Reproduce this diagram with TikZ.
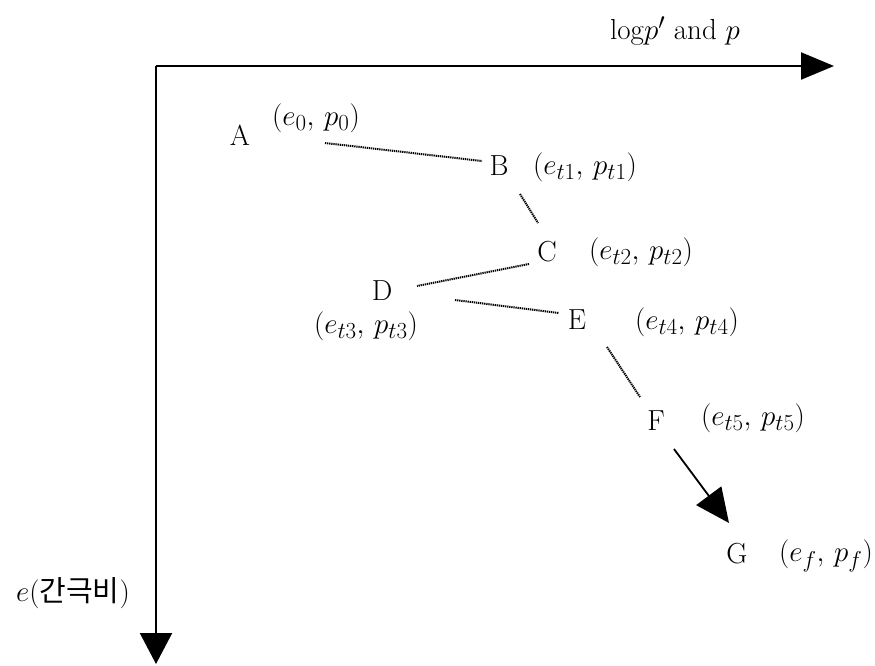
\documentclass[tikz,border=0pt]{standalone}
\usepackage{fix-cm}
\usepackage{fontspec}
\newfontfamily\kr{Noto Sans CJK KR}
\DeclareMathSizes{29}{29}{23}{18}
\usetikzlibrary{arrows.meta}
\begin{document}
\begin{tikzpicture}[x=1pt,y=-1pt,
  lbl/.style={inner sep=0pt,font=\fontsize{29}{34}\selectfont},
  axis/.style={line width=2.2pt},
  dotline/.style={line width=2pt,dash pattern=on 1.3pt off 0.8pt}
]
\useasboundingbox (0,0) rectangle (875,665);
% axes
\coordinate (O) at (156,66);
\coordinate (Xend) at (834,66);
\coordinate (Yend) at (156,664);
\draw[axis,-{Triangle[length=33pt,width=27pt]}] (O) -- (Xend);
\draw[axis,-{Triangle[length=31pt,width=32pt]}] (O) -- (Yend);
\node[lbl] (xlab) at (675,31) {$\mathrm{log}p'$ and $p$};
\node[lbl] (ylab) at (73,593) {$e$({\kr 간극비})};
% points
\node[lbl] (A) at (240,135) {A};
\node[lbl] (Av) at (316,118) {$(e_0,\, p_0)$};
\node[lbl] (B) at (499,166) {B};
\node[lbl] (Bv) at (585,167) {$(e_{t1},\, p_{t1})$};
\node[lbl] (C) at (547,252) {C};
\node[lbl] (Cv) at (641,252) {$(e_{t2},\, p_{t2})$};
\node[lbl] (D) at (382,291) {D};
\node[lbl] (Dv) at (366,326) {$(e_{t3},\, p_{t3})$};
\node[lbl] (E) at (577,320) {E};
\node[lbl] (Ev) at (687,322) {$(e_{t4},\, p_{t4})$};
\node[lbl] (F) at (656,421) {F};
\node[lbl] (Fv) at (753,418) {$(e_{t5},\, p_{t5})$};
\node[lbl] (G) at (737,554) {G};
\node[lbl] (Gv) at (826,556) {$(e_{f},\, p_{f})$};
% connector end points
\coordinate (ab1) at (325,143);
\coordinate (ab2) at (482,161);
\coordinate (bc1) at (520,194);
\coordinate (bc2) at (538,223);
\coordinate (cd1) at (529,264);
\coordinate (cd2) at (417,286);
\coordinate (de1) at (455,300);
\coordinate (de2) at (559,313);
\coordinate (ef1) at (607,347);
\coordinate (ef2) at (640,397);
\coordinate (fg1) at (674,449);
\coordinate (fg2) at (729,523);
\draw[dotline] (ab1) -- (ab2);
\draw[dotline] (bc1) -- (bc2);
\draw[dotline] (cd1) -- (cd2);
\draw[dotline] (de1) -- (de2);
\draw[dotline] (ef1) -- (ef2);
\draw[line width=1.8pt,-{Triangle[length=34pt,width=31pt]}] (fg1) -- (fg2);
\end{tikzpicture}
\end{document}
